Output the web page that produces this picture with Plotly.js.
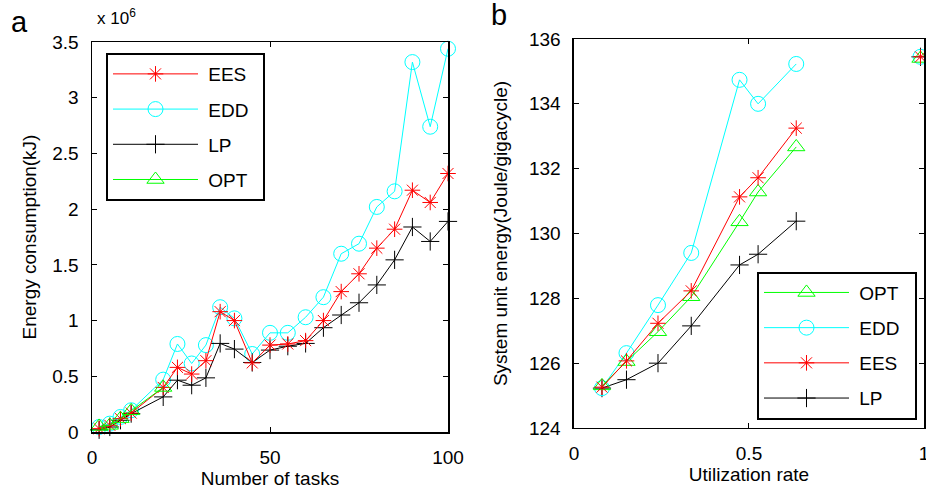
<!DOCTYPE html>
<html>
<head>
<meta charset="utf-8">
<script src="https://cdn.plot.ly/plotly-3.0.1.min.js"></script>
<style>html,body{margin:0;padding:0;background:#fff;}#chart{width:926px;height:492px;}</style>
</head>
<body>
<div id="chart"></div>
<script>
// ---- Panel a: energy consumption (values in units of 10^6 kJ) ----
var tasks = [2,5,8,11,20,24,28,32,36,40,45,50,55,60,65,70,75,80,85,90,95,100];
var eesA = [0.03,0.06,0.12,0.17,0.40,0.58,0.52,0.64,1.08,1.00,0.62,0.78,0.79,0.82,1.00,1.26,1.42,1.65,1.82,2.17,2.06,2.32];
var eddA = [0.045,0.075,0.135,0.195,0.47,0.79,0.615,0.78,1.12,1.02,0.70,0.89,0.89,1.03,1.21,1.60,1.69,2.02,2.16,3.32,2.74,3.44];
var lpA  = [0.02,0.045,0.105,0.165,0.315,0.465,0.42,0.486,0.795,0.744,0.624,0.735,0.77,0.795,0.936,1.05,1.16,1.32,1.545,1.84,1.71,1.89];
var optTasks = [2,5,8,11,20];
var optA = [0.05,0.06,0.12,0.19,0.40];

// ---- Panel b: system unit energy vs utilization rate ----
var util = [0.08,0.15,0.24,0.335,0.473,0.526,0.635];
var utilEnd = 0.99;
var optB = [125.3,126.05,126.97,128.05,130.36,131.28,132.67];
var eddB = [125.23,126.31,127.79,129.4,134.74,134.0,135.23];
var eesB = [125.26,126.07,127.23,128.23,131.13,131.72,133.25];
var lpB  = [125.23,125.49,126.0,127.15,129.03,129.36,130.38];
var endB = {OPT:135.4, EDD:135.45, EES:135.45, LP:135.45};

var FONT = "Liberation Sans, Arial, Helvetica, sans-serif";
var RED = "#ff0000", CYAN = "#00ffff", BLACK = "#000000", GREEN = "#00ff00";
var NB = "\u00a0";
var LEFT_TRAIL = NB + "\u2009", RIGHT_TRAIL = NB + NB;
function lname(s, trail){ return NB + s + trail; }

function mk(symbol, color, size){ return {symbol: symbol, color: color, size: size, line:{color: color, width: 1}}; }

var traces = [
  {x: tasks, y: eddA, name: lname("EDD",LEFT_TRAIL), mode: "lines+markers", line:{color: CYAN, width: 1}, marker: mk("circle-open", CYAN, 15), xaxis:"x", yaxis:"y", legend:"legend", legendrank: 2, legendgroup:"a2", cliponaxis:false},
  {x: tasks, y: lpA, name: lname("LP",LEFT_TRAIL), mode: "lines+markers", line:{color: BLACK, width: 1}, marker: mk("cross-thin-open", BLACK, 13), xaxis:"x", yaxis:"y", legend:"legend", legendrank: 3, legendgroup:"a3", cliponaxis:false},
  {x: tasks, y: eesA, name: lname("EES",LEFT_TRAIL), mode: "lines+markers", line:{color: RED, width: 1}, marker: mk("asterisk-open", RED, 13), xaxis:"x", yaxis:"y", legend:"legend", legendrank: 1, legendgroup:"a1", cliponaxis:false},
  {x: optTasks, y: optA, name: lname("OPT",LEFT_TRAIL), mode: "lines+markers", line:{color: GREEN, width: 1}, marker: mk("triangle-up-open", GREEN, 15), xaxis:"x", yaxis:"y", legend:"legend", legendrank: 4, legendgroup:"a4", cliponaxis:false},

  {x: util.concat([null, utilEnd]), y: lpB.concat([null, endB.LP]), name: lname("LP",RIGHT_TRAIL), mode: "lines+markers", line:{color: BLACK, width: 1}, marker: mk("cross-thin-open", BLACK, 13), xaxis:"x2", yaxis:"y2", legend:"legend2", legendrank: 4, legendgroup:"b4", cliponaxis:false, connectgaps:false},
  {x: util.concat([null, utilEnd]), y: eddB.concat([null, endB.EDD]), name: lname("EDD",RIGHT_TRAIL), mode: "lines+markers", line:{color: CYAN, width: 1}, marker: mk("circle-open", CYAN, 15), xaxis:"x2", yaxis:"y2", legend:"legend2", legendrank: 2, legendgroup:"b2", cliponaxis:false, connectgaps:false},
  {x: util.concat([null, utilEnd]), y: optB.concat([null, endB.OPT]), name: lname("OPT",RIGHT_TRAIL), mode: "lines+markers", line:{color: GREEN, width: 1}, marker: mk("triangle-up-open", GREEN, 15), xaxis:"x2", yaxis:"y2", legend:"legend2", legendrank: 1, legendgroup:"b1", cliponaxis:false, connectgaps:false},
  {x: util.concat([null, utilEnd]), y: eesB.concat([null, endB.EES]), name: lname("EES",RIGHT_TRAIL), mode: "lines+markers", line:{color: RED, width: 1}, marker: mk("asterisk-open", RED, 13), xaxis:"x2", yaxis:"y2", legend:"legend2", legendrank: 3, legendgroup:"b3", cliponaxis:false, connectgaps:false}
];

function axisBase(){
  return {
    showgrid: false, zeroline: false, showline: true, linecolor: BLACK, linewidth: 1.5,
    mirror: "allticks", ticks: "inside", ticklen: 5, tickwidth: 1, tickcolor: BLACK,
    tickfont: {family: FONT, size: 19, color: BLACK}, automargin: false, ticklabeloverflow: "allow"
  };
}

var xa = Object.assign(axisBase(), {domain:[0, 0.4279], range:[0,100], tickvals:[0,50,100], ticklabelstandoff: 8,
  title:{text:"Number of tasks", font:{family: FONT, size: 19, color: BLACK}, standoff: 4}, anchor:"y"});
var ya = Object.assign(axisBase(), {domain:[0, 0.9923], range:[0,3.5], dtick:0.5, tick0:0, ticklabelstandoff: 8,
  title:{text:"Energy consumption(kJ)", font:{family: FONT, size: 19, color: BLACK}, standoff: 10}, anchor:"x"});
var xb = Object.assign(axisBase(), {domain:[0.5793, 1.0], range:[0,1], tickvals:[0,0.5,1], ticklabelstandoff: 8,
  title:{text:"Utilization rate", font:{family: FONT, size: 19, color: BLACK}, standoff: 4}, anchor:"y2"});
var yb = Object.assign(axisBase(), {domain:[0.0102, 1.0], range:[124,136], dtick:2, tick0:124, ticklabelstandoff: 8,
  title:{text:"System unit energy(Joule/gigacycle)", font:{family: FONT, size: 19, color: BLACK}, standoff: 16}, anchor:"x2"});

var legendBase = {
  font:{family: FONT, size: 19, color: BLACK}, bgcolor:"#ffffff", bordercolor: BLACK, borderwidth: 2,
  xanchor:"left", yanchor:"top", itemwidth: 85, traceorder:"grouped", tracegroupgap: 7.5,
  itemclick:false, itemdoubleclick:false
};

var layout = {
  width: 926, height: 492,
  margin:{l:92, r:2, t:39, b:60, pad:0},
  paper_bgcolor:"#ffffff", plot_bgcolor:"#ffffff",
  font:{family: FONT, size: 19, color: BLACK},
  showlegend: true,
  xaxis: xa, yaxis: ya, xaxis2: xb, yaxis2: yb,
  legend: Object.assign({}, legendBase, {x: (106-92)/832, y: (432-54)/392}),
  legend2: Object.assign({}, legendBase, {x: (757-92)/832, y: (432-272)/392}),
  annotations: [
    {text:"a", xref:"paper", yref:"paper", x:(9-92)/832, y:(432-41)/392, xanchor:"left", yanchor:"bottom", showarrow:false, font:{family: FONT, size: 29, color: BLACK}},
    {text:"b", xref:"paper", yref:"paper", x:(489-92)/832, y:(432-34)/392, xanchor:"left", yanchor:"bottom", showarrow:false, font:{family: FONT, size: 29, color: BLACK}},
    {text:"x 10<sup>6</sup>", xref:"paper", yref:"paper", x:(95-92)/832, y:(432-31)/392, xanchor:"left", yanchor:"bottom", showarrow:false, font:{family: FONT, size: 17, color: BLACK}}
  ]
};

Plotly.newPlot("chart", traces, layout, {staticPlot: true, displayModeBar: false});
</script>
</body>
</html>
